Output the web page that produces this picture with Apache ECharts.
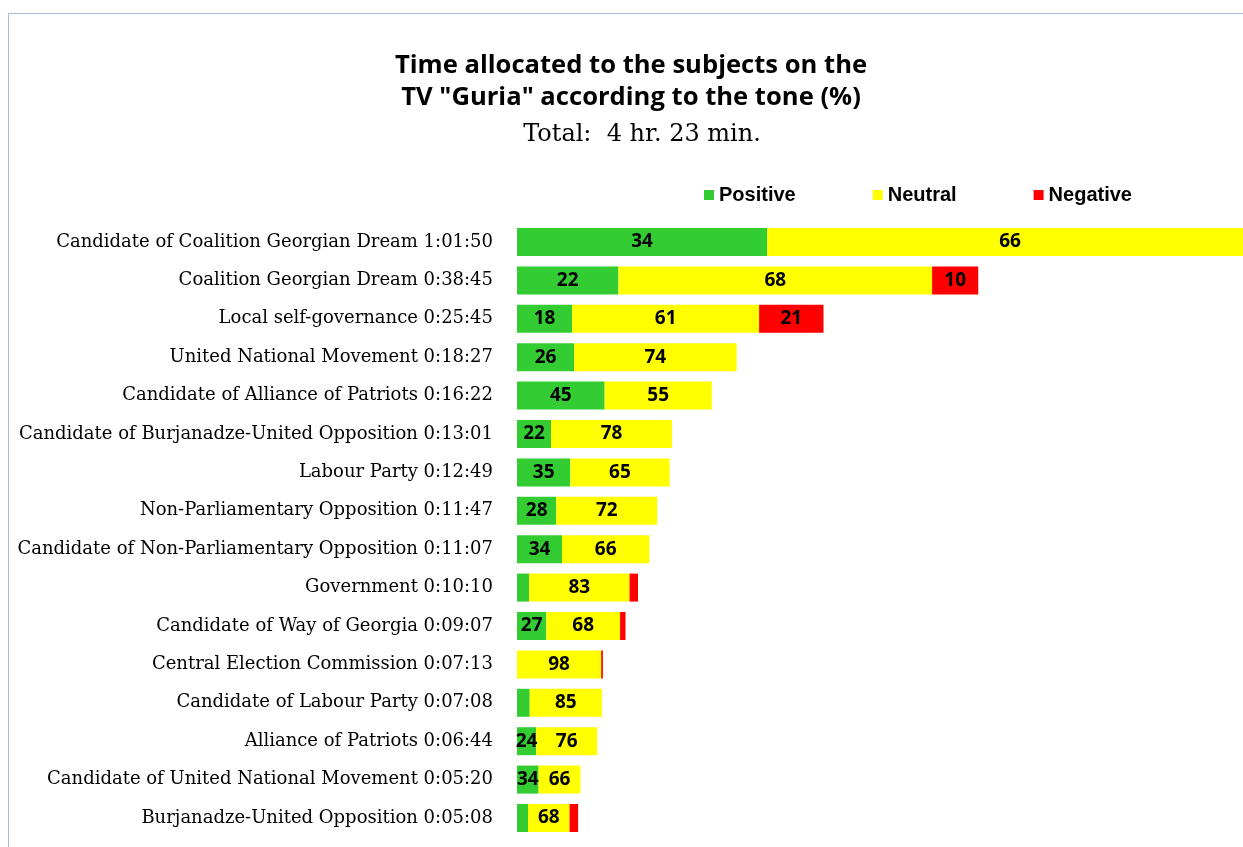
<!DOCTYPE html>
<html>
<head>
<meta charset="utf-8">
<script src="https://cdn.jsdelivr.net/npm/echarts@6/dist/echarts.min.js"></script>
<style>
  html, body { margin: 0; padding: 0; background: #fff; }
  #main { width: 1243px; height: 847px; }
</style>
</head>
<body>
<div id="main"></div>
<script>
var subjects = [
  "Candidate of Coalition Georgian Dream",
  "Coalition Georgian Dream",
  "Local self-governance",
  "United National Movement",
  "Candidate of Alliance of Patriots",
  "Candidate of Burjanadze-United Opposition",
  "Labour Party",
  "Non-Parliamentary Opposition",
  "Candidate of Non-Parliamentary Opposition",
  "Government",
  "Candidate of Way of Georgia",
  "Central Election Commission",
  "Candidate of Labour Party",
  "Alliance of Patriots",
  "Candidate of United National Movement",
  "Burjanadze-United Opposition"
];
var durations = [
  "1:01:50", "0:38:45", "0:25:45", "0:18:27", "0:16:22", "0:13:01", "0:12:49", "0:11:47",
  "0:11:07", "0:10:10", "0:09:07", "0:07:13", "0:07:08", "0:06:44", "0:05:20", "0:05:08"
];
var positive = [34, 22, 18, 26, 45, 22, 35, 28, 34, 10, 27, 0, 15, 24, 34, 18];
var neutral  = [66, 68, 61, 74, 55, 78, 65, 72, 66, 83, 68, 98, 85, 76, 66, 68];
var negative = [0, 10, 21, 0, 0, 0, 0, 0, 0, 7, 5, 2, 0, 0, 0, 14];

function toSeconds(t) {
  var p = t.split(":");
  return (+p[0]) * 3600 + (+p[1]) * 60 + (+p[2]);
}

var categories = subjects.map(function (s, i) { return s + " " + durations[i]; });
var seconds = durations.map(toSeconds);

function buildData(pcts) {
  return pcts.map(function (p, i) {
    return { value: seconds[i] * p / 100, pct: p };
  });
}

var labelStyle = {
  show: true,
  position: "inside",
  color: "#000",
  fontFamily: "Open Sans",
  fontWeight: "bold",
  fontSize: 19,
  formatter: function (params) {
    // only label segments wide enough to hold the number
    return params.value >= 80 ? String(params.data.pct) : "";
  }
};

function makeSeries(name, pcts, color) {
  return {
    name: name,
    type: "bar",
    stack: "total",
    barWidth: 28,
    data: buildData(pcts),
    itemStyle: { color: color },
    label: labelStyle,
    emphasis: { disabled: true }
  };
}

var option = {
  backgroundColor: "#fff",
  animation: false,
  title: [
    {
      text: 'Time allocated to the subjects on the\nTV "Guria" according to the tone (%)',
      left: 626,
      top: 45,
      textAlign: "center",
      textStyle: {
        fontFamily: "Open Sans",
        fontWeight: "bold",
        fontSize: 25.6,
        lineHeight: 32,
        color: "#000"
      }
    },
    {
      text: "Total:  4 hr. 23 min.",
      left: 637,
      top: 118,
      textAlign: "center",
      textStyle: {
        fontFamily: "DejaVu Serif",
        fontWeight: "normal",
        fontSize: 24,
        color: "#000"
      }
    }
  ],
  legend: {
    left: 704,
    top: 185,
    padding: 0,
    itemWidth: 10,
    itemHeight: 10,
    itemGap: 77,
    icon: "rect",
    textStyle: {
      fontFamily: "Liberation Sans",
      fontWeight: "bold",
      fontSize: 20,
      color: "#000"
    },
    data: ["Positive", "Neutral", "Negative"]
  },
  grid: {
    left: 517,
    top: 222.8,
    width: 736,
    height: 614.4,
    containLabel: false,
    outerBoundsMode: "none"
  },
  xAxis: {
    type: "value",
    min: 0,
    max: seconds[0],
    show: false
  },
  yAxis: {
    type: "category",
    inverse: true,
    data: categories,
    axisLine: { show: false },
    axisTick: { show: false },
    axisLabel: {
      margin: 24,
      fontFamily: "DejaVu Serif",
      fontSize: 18,
      color: "#000"
    }
  },
  graphic: [
    {
      type: "rect",
      shape: { x: 8.5, y: 13.5, width: 1400, height: 1000 },
      style: { fill: null, stroke: "#a5bbd8", lineWidth: 1 },
      silent: true
    }
  ],
  series: [
    makeSeries("Positive", positive, "#33cc33"),
    makeSeries("Neutral", neutral, "#ffff00"),
    makeSeries("Negative", negative, "#ff0000")
  ]
};

var myChart = echarts.init(document.getElementById("main"));
myChart.setOption(option);
</script>
</body>
</html>
